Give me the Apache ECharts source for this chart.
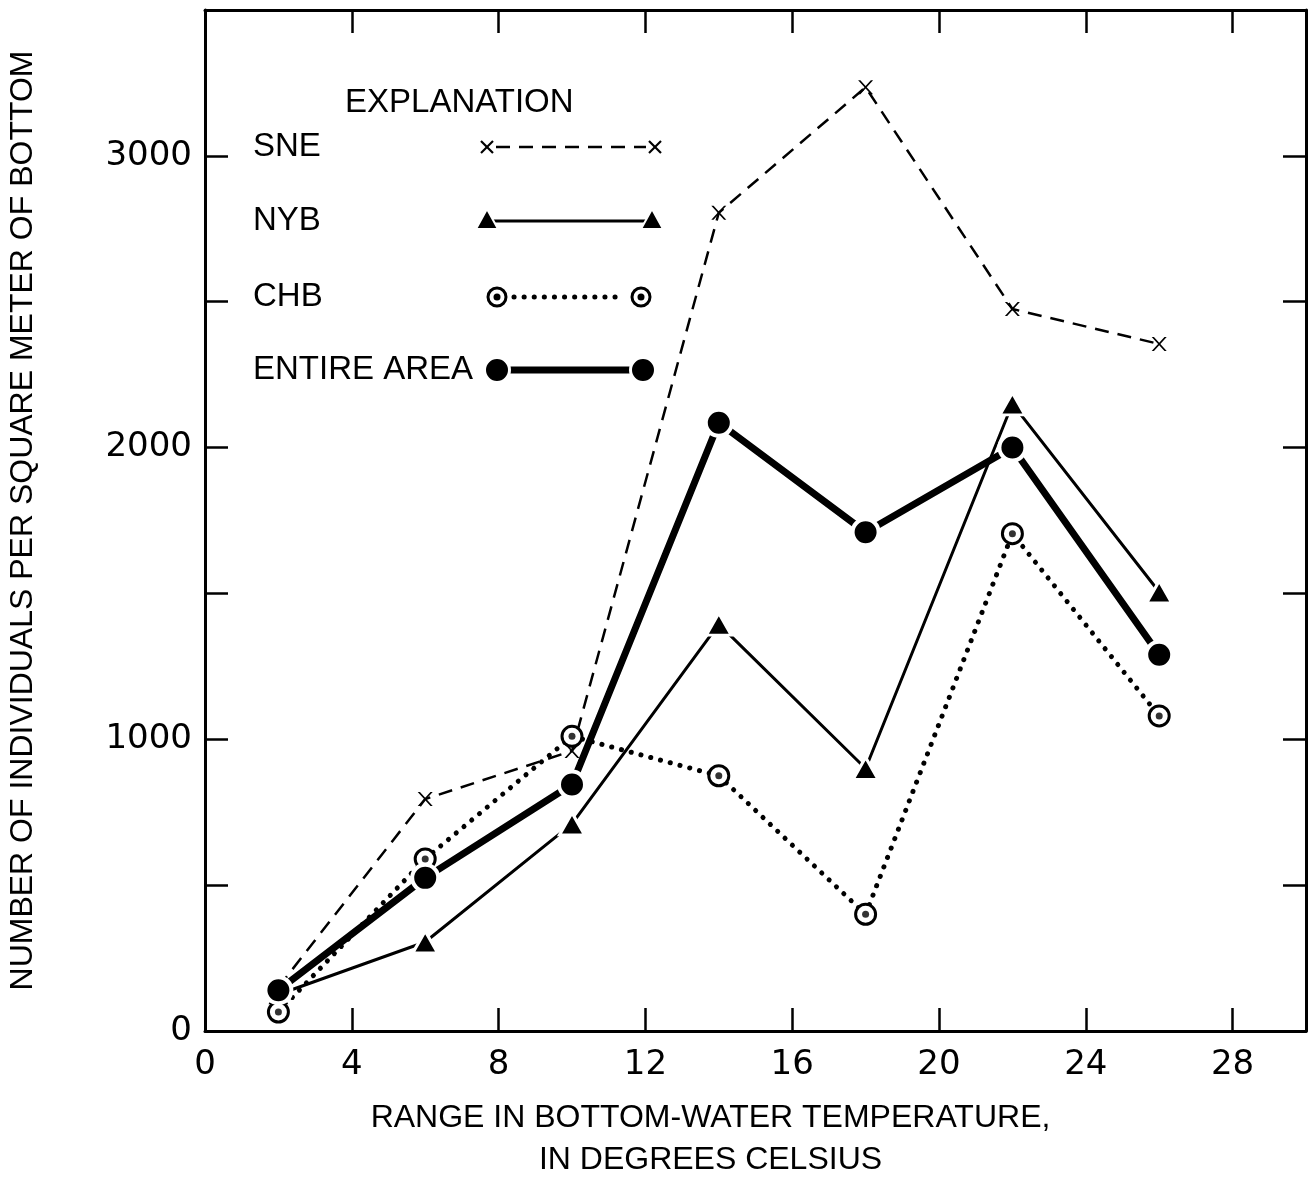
<!DOCTYPE html>
<html>
<head>
<meta charset="utf-8">
<title>Individuals per square meter vs bottom-water temperature range</title>
<script src="https://cdn.jsdelivr.net/npm/echarts@6/dist/echarts.min.js"></script>
<style>
  html, body { margin: 0; padding: 0; background: #fff; }
  #chart { width: 1310px; height: 1178px; }
</style>
</head>
<body>
<div id="chart"></div>
<script>
// range in bottom-water temperature, degrees C
var temps = [2, 6, 10, 14, 18, 22, 26];
// individuals per square meter of bottom
var sne = [150, 795, 960, 2805, 3235, 2475, 2355];
var nyb = [125, 305, 710, 1395, 900, 2150, 1505];
var chb = [65, 590, 1010, 875, 400, 1705, 1080];
var entire = [140, 525, 845, 2085, 1710, 2000, 1290];

var xTicks = [0, 4, 8, 12, 16, 20, 24, 28];
var yLabels = [0, 1000, 2000, 3000];

var FONT = '"Liberation Sans", Arial, sans-serif';
var NUMFONT = '"DejaVu Sans", sans-serif';
var X_MARK = 'path://M0,0L3,0L10,7L17,0L20,0L11.5,8.5L20,17L17,17L10,10L3,17L0,17L8.5,8.5Z';

var pairs = function (ys) {
    return temps.map(function (t, i) { return [t, ys[i]]; });
};

var tickStyle = { show: true, inside: true, length: 23, lineStyle: { color: '#000', width: 2.5 } };
var lineAxis = { show: true, onZero: false, lineStyle: { color: '#000', width: 3 } };

var myChart = echarts.init(document.getElementById('chart'));

// hand-drawn style "EXPLANATION" box
var legendRows = [
    { name: 'SNE', y: 147, x1: 487, x2: 655, kind: 'x' },
    { name: 'NYB', y: 221, x1: 487, x2: 652, kind: 'tri' },
    { name: 'CHB', y: 297, x1: 497, x2: 641, kind: 'ring' },
    { name: 'ENTIRE AREA', y: 370, x1: 497, x2: 643, kind: 'dot' }
];
var legendGraphic = [{
    type: 'text', x: 345, y: 103,
    style: { text: 'EXPLANATION', fontSize: 33, fontFamily: FONT, fill: '#000', verticalAlign: 'middle' }
}];
legendRows.forEach(function (r) {
    legendGraphic.push({
        type: 'text', x: 253, y: r.y,
        style: { text: r.name, fontSize: 33, fontFamily: FONT, fill: '#000', verticalAlign: 'middle' }
    });
    var marks = [r.x1, r.x2];
    if (r.kind === 'x') {
        legendGraphic.push({ type: 'line', shape: { x1: r.x1 + 9, y1: r.y, x2: r.x2 - 9, y2: r.y },
            style: { stroke: '#000', lineWidth: 2.5, lineDash: [14, 9] } });
        marks.forEach(function (m) {
            legendGraphic.push({ type: 'line', shape: { x1: m - 6, y1: r.y - 6, x2: m + 6, y2: r.y + 6 }, style: { stroke: '#000', lineWidth: 2.2 } });
            legendGraphic.push({ type: 'line', shape: { x1: m - 6, y1: r.y + 6, x2: m + 6, y2: r.y - 6 }, style: { stroke: '#000', lineWidth: 2.2 } });
        });
    } else if (r.kind === 'tri') {
        legendGraphic.push({ type: 'line', shape: { x1: r.x1, y1: r.y, x2: r.x2, y2: r.y },
            style: { stroke: '#000', lineWidth: 3 } });
        marks.forEach(function (m) {
            legendGraphic.push({ type: 'polygon', shape: { points: [[m, r.y - 12], [m + 11, r.y + 8], [m - 11, r.y + 8]] },
                style: { fill: '#000', stroke: '#fff', lineWidth: 2 } });
        });
    } else if (r.kind === 'ring') {
        legendGraphic.push({ type: 'line', shape: { x1: r.x1 + 17, y1: r.y, x2: r.x2 - 17, y2: r.y },
            style: { stroke: '#000', lineWidth: 5, lineDash: [0.1, 10], lineCap: 'round' } });
        marks.forEach(function (m) {
            legendGraphic.push({ type: 'circle', shape: { cx: m, cy: r.y, r: 9 }, style: { fill: '#fff', stroke: '#000', lineWidth: 3 } });
            legendGraphic.push({ type: 'circle', shape: { cx: m, cy: r.y, r: 3.5 }, style: { fill: '#000' } });
        });
    } else {
        legendGraphic.push({ type: 'line', shape: { x1: r.x1, y1: r.y, x2: r.x2, y2: r.y },
            style: { stroke: '#000', lineWidth: 7 } });
        marks.forEach(function (m) {
            legendGraphic.push({ type: 'circle', shape: { cx: m, cy: r.y, r: 12.5 }, style: { fill: '#000', stroke: '#fff', lineWidth: 3 } });
        });
    }
});

var option = {
    animation: false,
    backgroundColor: '#fff',
    grid: { left: 205, right: 4, top: 10, bottom: 147, outerBoundsMode: 'none', containLabel: false },
    xAxis: [{
        type: 'value', position: 'bottom',
        min: 0, max: 30, interval: 4,
        axisLine: lineAxis, axisTick: tickStyle, splitLine: { show: false },
        axisLabel: {
            margin: 17, color: '#000', fontSize: 34, fontFamily: NUMFONT,
            showMaxLabel: false,
            formatter: function (v) { return xTicks.indexOf(v) >= 0 ? String(v) : ''; }
        },
        name: 'RANGE IN BOTTOM-WATER TEMPERATURE,\nIN DEGREES CELSIUS',
        nameLocation: 'middle', nameGap: 66,
        nameTextStyle: { color: '#000', fontSize: 32, fontFamily: FONT, lineHeight: 42, padding: [0, 90, 0, 0] }
    }, {
        type: 'value', position: 'top',
        min: 0, max: 30, interval: 4,
        axisLine: lineAxis, axisTick: tickStyle, splitLine: { show: false },
        axisLabel: { show: false }
    }],
    yAxis: [{
        type: 'value', position: 'left',
        min: 0, max: 3500, interval: 500,
        axisLine: lineAxis, axisTick: tickStyle, splitLine: { show: false },
        axisLabel: {
            margin: 13, color: '#000', fontSize: 34, fontFamily: NUMFONT,
            formatter: function (v) { return yLabels.indexOf(v) >= 0 ? String(v) : ''; }
        },
        name: 'NUMBER OF INDIVIDUALS PER SQUARE METER OF BOTTOM',
        nameLocation: 'middle', nameGap: 166,
        nameTextStyle: { color: '#000', fontSize: 32, fontFamily: FONT }
    }, {
        type: 'value', position: 'right',
        min: 0, max: 3500, interval: 500,
        axisLine: lineAxis, axisTick: tickStyle, splitLine: { show: false },
        axisLabel: { show: false }
    }],
    graphic: legendGraphic,
    series: [{
        name: 'SNE', type: 'line', data: pairs(sne),
        symbol: X_MARK, symbolSize: [15, 14],
        itemStyle: { color: '#000' },
        lineStyle: { color: '#000', width: 2.5, type: [14, 9] }
    }, {
        name: 'NYB', type: 'line', data: pairs(nyb),
        symbol: 'triangle', symbolSize: [25, 22],
        itemStyle: { color: '#000', borderColor: '#fff', borderWidth: 3 },
        lineStyle: { color: '#000', width: 3 }
    }, {
        name: 'CHB', type: 'line', data: pairs(chb),
        symbol: 'circle', symbolSize: 20,
        itemStyle: { color: '#fff', borderColor: '#000', borderWidth: 3 },
        lineStyle: { color: '#000', width: 5, type: [0.1, 10], cap: 'round' }
    }, {
        name: 'CHB centre', type: 'scatter', data: pairs(chb),
        symbol: 'circle', symbolSize: 7, z: 4,
        itemStyle: { color: '#000' }
    }, {
        name: 'ENTIRE AREA', type: 'line', data: pairs(entire),
        symbol: 'circle', symbolSize: 26,
        itemStyle: { color: '#000', borderColor: '#fff', borderWidth: 4 },
        lineStyle: { color: '#000', width: 7 }
    }]
};
option && myChart.setOption(option);
window.onresize = function () {
    myChart.resize();
};
</script>
</body>
</html>
